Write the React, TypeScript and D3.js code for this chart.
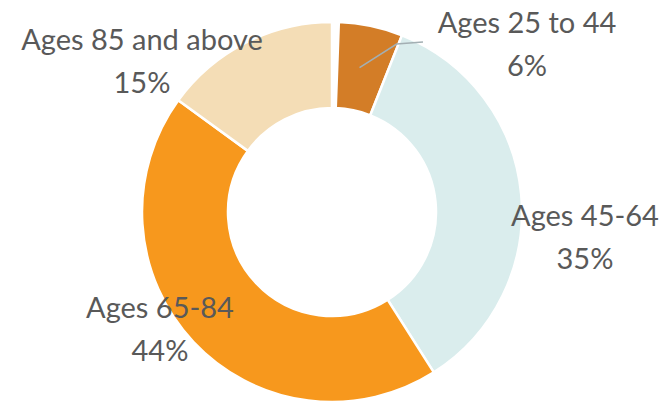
import React from "react";
import * as d3 from "d3";

const categories = ["Ages 25 to 44", "Ages 45-64", "Ages 65-84", "Ages 85 and above"];
const values = [6, 35, 44, 15];
const percentLabels = ["6%", "35%", "44%", "15%"];

const colors = ["#D37D27", "#DAEDED", "#F7981D", "#F4DDB6"];
// label anchors: [centre x, first baseline y]
const labelAnchors: [number, number][] = [
  [527, 33],
  [585, 226],
  [160, 318],
  [142, 50],
];

const W = 666;
const H = 404;
const CX = 332;
const CY = 212;
const R_OUT = 190;
const R_IN = 104;
const TOP_GAP = 0.036;

export default function App() {
  const pie = d3
    .pie<number>()
    .sort(null)
    .value((d) => d)
    .startAngle(0)
    .endAngle(2 * Math.PI);
  const arcs = pie(values);
  const arcGen = d3.arc<any>().innerRadius(R_IN).outerRadius(R_OUT);

  const first = arcs[0];
  const c0 = arcGen.centroid(first);
  const bendAngle = first.endAngle - 0.01;
  const bend: [number, number] = [Math.sin(bendAngle) * 180, -Math.cos(bendAngle) * 180];
  const leader = d3.line()([
    [c0[0], c0[1]],
    bend,
    [labelAnchors[0][0] - 104 - CX, 42 - CY],
  ]);

  return (
    <svg
      width={W}
      height={H}
      style={{ position: "absolute", left: 0, top: 0, background: "#fff" }}
      fontFamily="Lato, 'Open Sans', sans-serif"
    >
      <g transform={`translate(${CX},${CY})`}>
        {arcs.map((a, i) => (
          <path
            key={categories[i]}
            d={
              arcGen({
                ...a,
                startAngle: i === 0 ? a.startAngle + TOP_GAP : a.startAngle,
              }) as string
            }
            fill={colors[i]}
            stroke="#fff"
            strokeWidth={2.5}
            strokeLinejoin="round"
          />
        ))}
        <path d={leader as string} fill="none" stroke="#A3AFB3" strokeWidth={1.6} />
      </g>
      {categories.map((c, i) => (
        <text
          key={c}
          x={labelAnchors[i][0]}
          y={labelAnchors[i][1]}
          textAnchor="middle"
          fontSize={29}
          fill="#595959"
        >
          <tspan x={labelAnchors[i][0]}>{c}</tspan>
          <tspan x={labelAnchors[i][0]} dy={43}>
            {percentLabels[i]}
          </tspan>
        </text>
      ))}
    </svg>
  );
}
